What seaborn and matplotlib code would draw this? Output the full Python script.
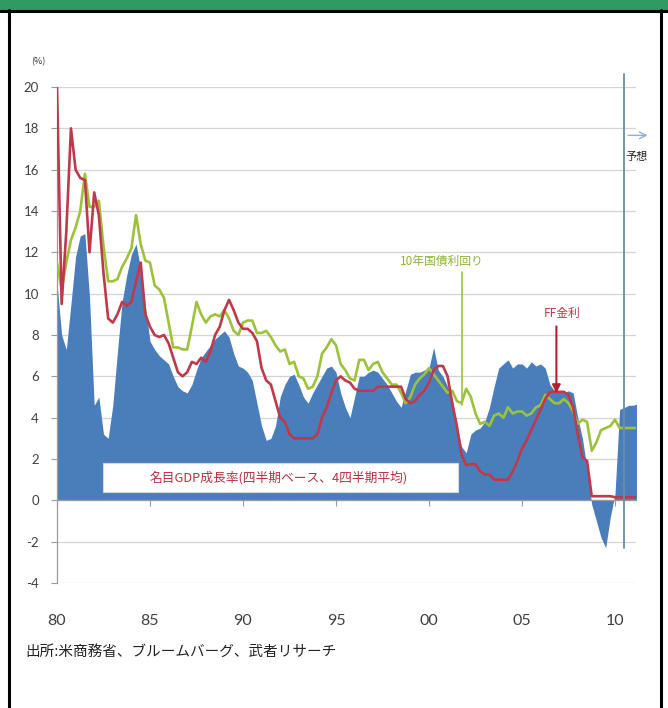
import numpy as np
import pandas as pd
import matplotlib
matplotlib.use("Agg")
import matplotlib.pyplot as plt
import seaborn as sns
from matplotlib.patches import Rectangle
from matplotlib.lines import Line2D

# Quarterly time axis, 1980Q1 .. 2011Q2
quarters = np.arange(1980, 2011.5, 0.25)

# Nominal GDP growth (%, 4-quarter average)
gdp_growth = [
    10.5, 8.0, 7.3, 9.5,     # 1980
    11.8, 12.8, 12.9, 9.8,   # 1981
    4.6, 5.0, 3.2, 3.0,      # 1982
    4.6, 7.2, 9.6, 10.9,     # 1983
    11.9, 12.4, 11.2, 9.4,   # 1984
    7.7, 7.3, 7.0, 6.8,      # 1985
    6.6, 6.0, 5.5, 5.3,      # 1986
    5.2, 5.6, 6.3, 6.9,      # 1987
    7.2, 7.5, 7.8, 8.0,      # 1988
    8.2, 7.9, 7.1, 6.5,      # 1989
    6.4, 6.2, 5.8, 4.7,      # 1990
    3.6, 2.9, 3.0, 3.6,      # 1991
    5.0, 5.6, 6.0, 6.1,      # 1992
    5.6, 5.0, 4.7, 5.2,      # 1993
    5.6, 6.0, 6.4, 6.5,      # 1994
    6.2, 5.2, 4.5, 4.0,      # 1995
    5.0, 6.0, 6.0, 6.2,      # 1996
    6.3, 6.2, 5.9, 5.6,      # 1997
    5.2, 4.8, 4.5, 5.3,      # 1998
    6.1, 6.2, 6.2, 6.3,      # 1999
    6.4, 7.4, 6.3, 6.0,      # 2000
    5.5, 4.9, 3.6, 2.6,      # 2001
    2.3, 3.2, 3.4, 3.5,      # 2002
    3.8, 4.5, 5.5, 6.4,      # 2003
    6.6, 6.8, 6.4, 6.6,      # 2004
    6.6, 6.4, 6.7, 6.5,      # 2005
    6.6, 6.4, 5.6, 5.3,      # 2006
    5.3, 5.2, 5.3, 5.2,      # 2007
    4.0, 3.0, 1.5, -0.2,     # 2008
    -1.0, -1.8, -2.3, -0.8,  # 2009
    0.3, 4.4, 4.5, 4.6,      # 2010
    4.6, 4.7,                # 2011
]

# Federal funds rate (%)
ff_rate = [
    20.0, 9.5, 13.0, 18.0,
    16.0, 15.6, 15.5, 12.0,
    14.9, 13.8, 11.0, 8.8,
    8.6, 9.0, 9.6, 9.4,
    9.6, 10.6, 11.5, 9.0,
    8.4, 8.0, 7.9, 8.0,
    7.6, 6.9, 6.2, 6.0,
    6.2, 6.7, 6.6, 6.9,
    6.7, 7.2, 8.0, 8.4,
    9.2, 9.7, 9.2, 8.6,
    8.3, 8.3, 8.1, 7.7,
    6.4, 5.8, 5.6, 4.8,
    4.0, 3.8, 3.2, 3.0,
    3.0, 3.0, 3.0, 3.0,
    3.2, 4.0, 4.5, 5.2,
    5.8, 6.0, 5.8, 5.7,
    5.4, 5.3, 5.3, 5.3,
    5.3, 5.5, 5.5, 5.5,
    5.5, 5.5, 5.5, 4.9,
    4.7, 4.8, 5.1, 5.3,
    5.7, 6.3, 6.5, 6.5,
    6.0, 4.7, 3.6, 2.2,
    1.7, 1.75, 1.75, 1.4,
    1.25, 1.25, 1.0, 1.0,
    1.0, 1.0, 1.4, 1.9,
    2.5, 2.9, 3.4, 3.9,
    4.4, 4.9, 5.25, 5.25,
    5.25, 5.25, 5.1, 4.5,
    3.2, 2.1, 1.9, 0.2,
    0.2, 0.2, 0.2, 0.2,
    0.15, 0.15, 0.15, 0.15,
    0.15, 0.15,
]

# 10-year Treasury yield (%)
t10_yield = [
    11.5, 10.2, 11.5, 12.6,
    13.2, 14.0, 15.8, 14.2,
    14.2, 14.5, 12.3, 10.6,
    10.6, 10.7, 11.3, 11.7,
    12.2, 13.8, 12.4, 11.6,
    11.5, 10.4, 10.2, 9.8,
    8.6, 7.4, 7.4, 7.3,
    7.3, 8.4, 9.6, 9.0,
    8.6, 8.9, 9.0, 8.9,
    9.2, 8.8, 8.2, 8.0,
    8.6, 8.7, 8.7, 8.1,
    8.1, 8.2, 7.9, 7.5,
    7.2, 7.3, 6.6, 6.7,
    6.0, 5.9, 5.4, 5.5,
    6.0, 7.1, 7.4, 7.8,
    7.5, 6.6, 6.3, 5.9,
    5.8, 6.8, 6.8, 6.3,
    6.6, 6.7, 6.2, 5.9,
    5.6, 5.6, 5.2, 4.7,
    5.0, 5.6, 5.9, 6.1,
    6.4, 6.1, 5.8, 5.5,
    5.2, 5.3, 4.8, 4.7,
    5.4, 5.0, 4.2, 3.7,
    3.8, 3.6, 4.1, 4.2,
    4.0, 4.5, 4.2, 4.3,
    4.3, 4.1, 4.2, 4.5,
    4.6, 5.1, 4.9, 4.7,
    4.7, 4.9, 4.7, 4.3,
    3.7, 3.9, 3.8, 2.4,
    2.8, 3.4, 3.5, 3.6,
    3.9, 3.5, 3.5, 3.5,
    3.5, 3.5,
]

x_tick_years = [1980, 1985, 1990, 1995, 2000, 2005, 2010]
x_tick_labels = ["80", "85", "90", "95", "00", "05", "10"]
y_ticks = list(range(-4, 21, 2))

df = pd.DataFrame({"t": quarters, "gdp": gdp_growth, "ff": ff_rate, "t10": t10_yield})

sns.set_theme(style="white")
plt.rcParams["font.family"] = ["Noto Sans CJK JP", "DejaVu Sans"]

BLUE = "#4a7ebb"
RED = "#c0394a"
GREEN = "#9cc23c"
W, H = 668, 708

fig = plt.figure(figsize=(W / 100, H / 100), dpi=100)
ax = fig.add_axes([57 / W, (H - 583) / H, (636 - 57) / W, (583 - 87) / H])

# horizontal grid
for yv in y_ticks:
    ax.axhline(yv, color="#d4d4d4", lw=0.9, zorder=0)

ax.fill_between(df["t"], 0, df["gdp"], color=BLUE, lw=0, zorder=1)
sns.lineplot(data=df, x="t", y="t10", color=GREEN, lw=1.9, ax=ax, zorder=3)
sns.lineplot(data=df, x="t", y="ff", color=RED, lw=1.9, ax=ax, zorder=4)

ax.set_xlim(1980, 2011.13)
ax.set_ylim(-4, 20)
ax.set_xlabel("")
ax.set_ylabel("")

for s in ["top", "right"]:
    ax.spines[s].set_visible(False)
ax.spines["left"].set_color("#9a9a9a")
ax.spines["left"].set_linewidth(0.9)
ax.spines["bottom"].set_position(("data", 0))
ax.spines["bottom"].set_color("#9a9a9a")
ax.spines["bottom"].set_linewidth(0.9)
ax.spines["bottom"].set_zorder(2)

ax.set_yticks(y_ticks)
ax.set_yticklabels([str(v) for v in y_ticks], family="Lato")
ax.tick_params(axis="y", which="both", left=True, length=4, width=0.8, color="#9a9a9a",
               labelsize=9.5, labelcolor="#404040", pad=9)
ax.set_xticks(x_tick_years)
ax.tick_params(axis="x", bottom=True, length=4, width=0.8, color="#9a9a9a", labelbottom=False)

# year labels along the bottom edge
sec = ax.secondary_xaxis("bottom")
sec.set_xticks(x_tick_years)
sec.set_xticklabels(x_tick_labels, family="Lato")
sec.tick_params(length=0, labelsize=11.5, labelcolor="#404040", pad=22)
sec.spines["bottom"].set_visible(False)

# legend box for the GDP area
ax.add_patch(Rectangle((1982.5, 0.4), 19.05, 1.4, facecolor="white", edgecolor="#d8d8d8",
                       lw=0.8, zorder=5))
ax.text(1991.9, 1.1, "名目GDP成長率(四半期ベース、4四半期平均)", color="#b83040",
        fontsize=9.2, ha="center", va="center", zorder=6)

# 10-year yield label with leader line
ax.text(2000.7, 11.56, "10年国債利回り", color="#8db33a", fontsize=8.5,
        ha="center", va="center", zorder=6)
ax.plot([2001.75, 2001.75], [11.05, 4.6], color=GREEN, lw=1.2, zorder=6)

# FF rate label with arrow
ax.text(2007.15, 9.05, "FF金利", color=RED, fontsize=8.5, ha="center", va="center", zorder=6)
ax.annotate("", xy=(2006.85, 5.05), xytext=(2006.85, 8.55),
            arrowprops=dict(arrowstyle="-|>", color="#b02030", lw=1.5, mutation_scale=12),
            zorder=6)

# forecast divider
ax.plot([2010.48, 2010.48], [20.65, -2.3], color="#6a8cb0", lw=1.3, clip_on=False, zorder=6)
ax.annotate("", xy=(2011.9, 17.66), xytext=(2010.55, 17.66),
            arrowprops=dict(arrowstyle="->", color="#8fb0d0", lw=1.0),
            annotation_clip=False)
ax.text(2011.13, 16.6, "予想", fontsize=8, color="#222222", ha="center", va="center",
        clip_on=False)

fig.text(38 / W, 1 - 62 / H, "(%)", fontsize=6.5, color="#333333", ha="center", va="center")
fig.text(25 / W, 1 - 652 / H, "出所:米商務省、ブルームバーグ、武者リサーチ", fontsize=10.5,
         color="#222222", ha="left", va="center")

# page frame: green header strip and black borders
fig.add_artist(Rectangle((0, 1 - 10 / H), 1, 10 / H, transform=fig.transFigure,
                         facecolor="#2f9a62", edgecolor="none"))
fig.add_artist(Line2D([0, 1], [1 - 11 / H, 1 - 11 / H], transform=fig.transFigure,
                      color="black", lw=2.2))
fig.add_artist(Line2D([8.5 / W, 8.5 / W], [0, 1 - 10 / H], transform=fig.transFigure,
                      color="black", lw=2.2))
fig.add_artist(Line2D([661 / W, 661 / W], [0, 1 - 10 / H], transform=fig.transFigure,
                      color="black", lw=2.2))

fig.savefig("out.png", dpi=100)
